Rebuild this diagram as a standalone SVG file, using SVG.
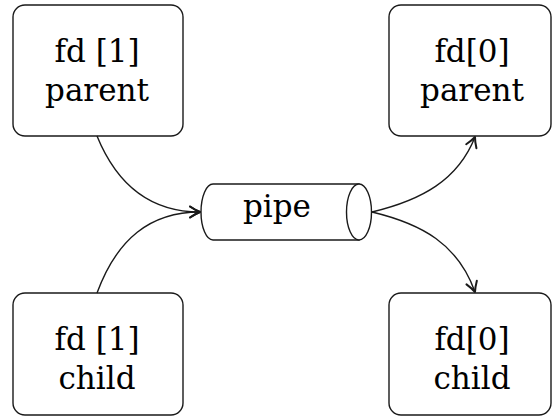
<svg xmlns="http://www.w3.org/2000/svg" width="552" height="418" viewBox="0 0 552 418">
<style>
.box{fill:#fff;stroke:#1a1a1a;stroke-width:1.4}
.lbl{font-family:'DejaVu Serif',serif;font-size:31px;fill:#000;text-anchor:middle}
.edge{fill:none;stroke:#1a1a1a;stroke-width:1.4}
</style>
<defs>
<marker id="arr" viewBox="-12 -8 14 16" refX="0" refY="0" markerWidth="14" markerHeight="16" markerUnits="userSpaceOnUse" orient="auto">
<path d="M-10,-5.5 Q-4,-1.5 0,0 Q-4,1.5 -10,5.5" fill="none" stroke="#1a1a1a" stroke-width="2" stroke-linecap="round" stroke-linejoin="round"/>
</marker>
</defs>
<g id="n-fd1-parent">
<rect class="box" x="13" y="5" width="170" height="131" rx="12"/>
<text class="lbl" x="97" y="62">fd [1]</text>
<text class="lbl" x="97" y="101">parent</text>
</g>
<g id="n-fd1-child">
<rect class="box" x="13" y="293" width="170" height="122" rx="12"/>
<text class="lbl" x="97" y="350">fd [1]</text>
<text class="lbl" x="97" y="389">child</text>
</g>
<g id="n-fd0-parent">
<rect class="box" x="389" y="5" width="162" height="131" rx="12"/>
<text class="lbl" x="472" y="62">fd[0]</text>
<text class="lbl" x="472" y="101">parent</text>
</g>
<g id="n-fd0-child">
<rect class="box" x="389" y="293" width="162" height="122" rx="12"/>
<text class="lbl" x="472" y="350">fd[0]</text>
<text class="lbl" x="472" y="389">child</text>
</g>
<g id="n-pipe">
<path class="box" d="M213,184 L359,184 L359,240 L213,240 A12,28 0 0 1 213,184 Z"/>
<ellipse class="box" cx="359" cy="212" rx="12.5" ry="28"/>
<text class="lbl" x="277" y="217">pipe</text>
</g>
<g id="connectors">
<path class="edge" d="M97,136 C117,185 150,212 200,212" marker-end="url(#arr)"/>
<path class="edge" d="M97,293 C117,239 150,212 200,212" marker-end="url(#arr)"/>
<path class="edge" d="M372,212 C422,200 458,180 475,137" marker-end="url(#arr)"/>
<path class="edge" d="M372,212 C422,224 458,244 475,292" marker-end="url(#arr)"/>
</g>
</svg>
